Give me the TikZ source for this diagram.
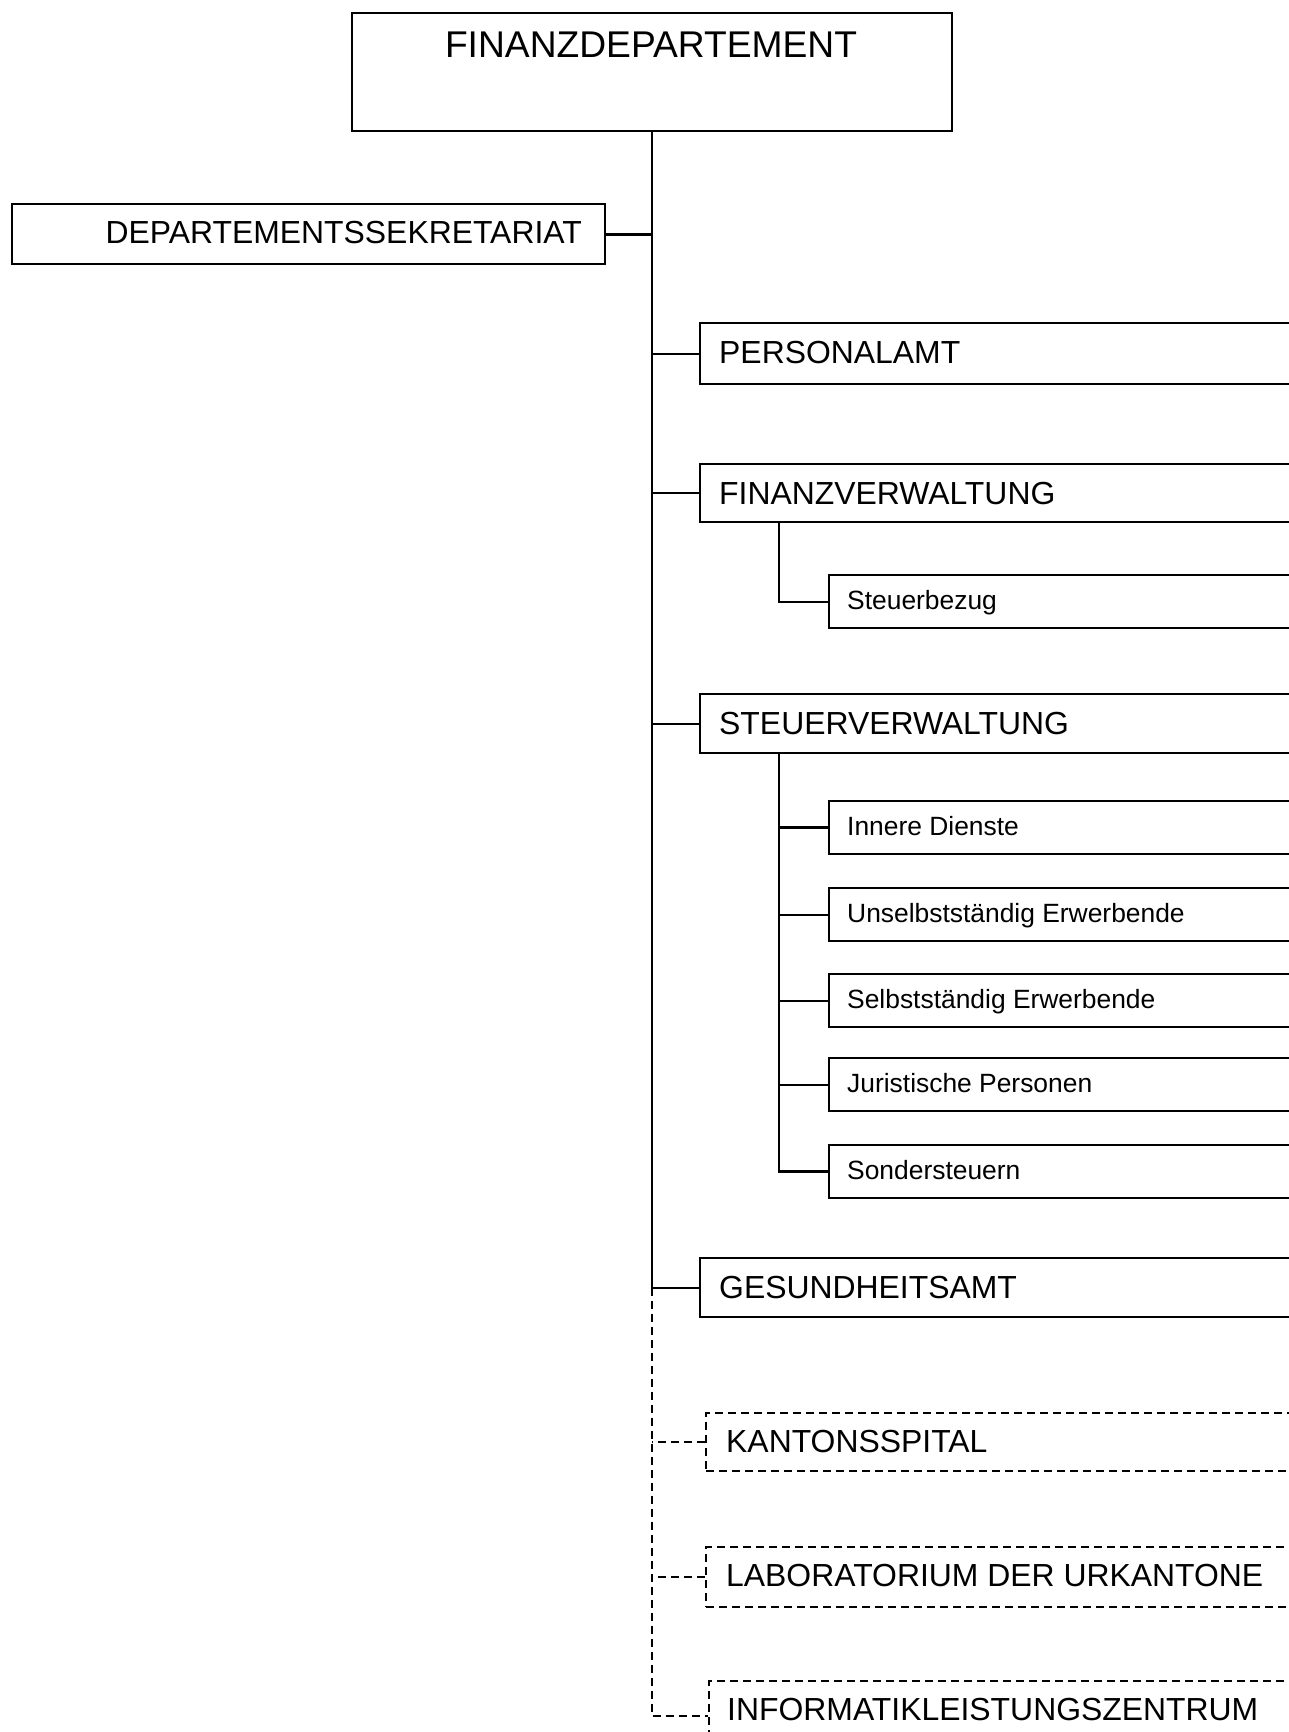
\documentclass[tikz,border=0pt]{standalone}
\usepackage{fontspec}
\setmainfont{Liberation Sans}
\tikzset{
  box/.style={draw, line width=2pt, rectangle, anchor=north west, inner sep=0pt},
  dbox/.style={box, dash pattern=on 8pt off 5pt},
  toptext/.style={font=\fontsize{37.2}{40}\selectfont, anchor=base, inner sep=0pt},
  bigtext/.style={font=\fontsize{31.9}{36}\selectfont, anchor=base west, inner sep=0pt},
  smalltext/.style={font=\fontsize{26.4}{30}\selectfont, anchor=base west, inner sep=0pt},
  link/.style={line width=2pt},
  thicklink/.style={line width=3pt},
  dlink/.style={line width=2pt, dash pattern=on 8pt off 5pt},
}
\begin{document}
\begin{tikzpicture}[x=1pt, y=-1pt]
\fill[white] (0,0) rectangle (1289,1732);
\useasboundingbox (0,0) rectangle (1289,1732);
\clip (0,0) rectangle (1289,1732);

% top
\node[box, minimum width=600pt, minimum height=118pt] (fd) at (351,12) {};
\node[toptext] (fdt) at (651,57) {FINANZDEPARTEMENT};

% secretariat
\node[box, minimum width=593pt, minimum height=60pt] (sek) at (11,203) {};
\node[bigtext, anchor=base east] (sekt) at (582,243) {DEPARTEMENTSSEKRETARIAT};

% first level solid boxes
\node[box, minimum width=610pt, minimum height=61pt] (pa) at (699,322) {};
\node[bigtext] (pat) at (719,363) {PERSONALAMT};

\node[box, minimum width=610pt, minimum height=58pt] (fv) at (699,463) {};
\node[bigtext] (fvt) at (719,504) {FINANZVERWALTUNG};

\node[box, minimum width=480pt, minimum height=53pt] (sb) at (828,574) {};
\node[smalltext] (sbt) at (847,609) {Steuerbezug};

\node[box, minimum width=610pt, minimum height=59pt] (sv) at (699,693) {};
\node[bigtext] (svt) at (719,734) {STEUERVERWALTUNG};

\node[box, minimum width=480pt, minimum height=53pt] (id) at (828,800) {};
\node[smalltext] (idt) at (847,835) {Innere Dienste};
\node[box, minimum width=480pt, minimum height=53pt] (us) at (828,887) {};
\node[smalltext] (ust) at (847,922) {Unselbstständig Erwerbende};
\node[box, minimum width=480pt, minimum height=53pt] (ss) at (828,973) {};
\node[smalltext] (sst) at (847,1008) {Selbstständig Erwerbende};
\node[box, minimum width=480pt, minimum height=53pt] (jp) at (828,1057) {};
\node[smalltext] (jpt) at (847,1092) {Juristische Personen};
\node[box, minimum width=480pt, minimum height=53pt] (st) at (828,1144) {};
\node[smalltext] (stt) at (847,1179) {Sondersteuern};

\node[box, minimum width=610pt, minimum height=59pt] (ga) at (699,1257) {};
\node[bigtext] (gat) at (719,1298) {GESUNDHEITSAMT};

% dashed boxes
\node[dbox, minimum width=610pt, minimum height=58pt] (ks) at (705,1412) {};
\node[bigtext] (kst) at (726,1452) {KANTONSSPITAL};
\node[dbox, minimum width=610pt, minimum height=60pt] (lb) at (705,1546) {};
\node[bigtext] (lbt) at (726,1586) {LABORATORIUM DER URKANTONE};
\node[dbox, minimum width=610pt, minimum height=70pt] (inf) at (708,1680) {};
\node[bigtext] (inft) at (727,1720) {INFORMATIKLEISTUNGSZENTRUM};

% connectors
\coordinate (spine) at (fd.south);
\draw[link] (fd.south) |- (ga.west);
\draw[thicklink] (sek.east) -- (sek.east -| spine);
\draw[link] (pa.west) -- (pa.west -| spine);
\draw[link] (fv.west) -- (fv.west -| spine);
\draw[link] (sv.west) -- (sv.west -| spine);

\coordinate (fvx) at ([xshift=80pt]fv.south west);
\draw[link] (fvx) |- (sb.west);

\coordinate (svx) at ([xshift=80pt]sv.south west);
\draw[link] (svx) |- (st.west);
\draw[thicklink] (st.west) -- (st.west -| svx);
\draw[thicklink] (id.west) -- (id.west -| svx);
\foreach \n in {us,ss,jp}{\draw[link] (\n.west) -- (\n.west -| svx);}

\draw[dlink] (ga.west -| spine) |- (inf.west);
\draw[dlink] (ks.west) -- (ks.west -| spine);
\draw[dlink] (lb.west) -- (lb.west -| spine);
\end{tikzpicture}
\end{document}
